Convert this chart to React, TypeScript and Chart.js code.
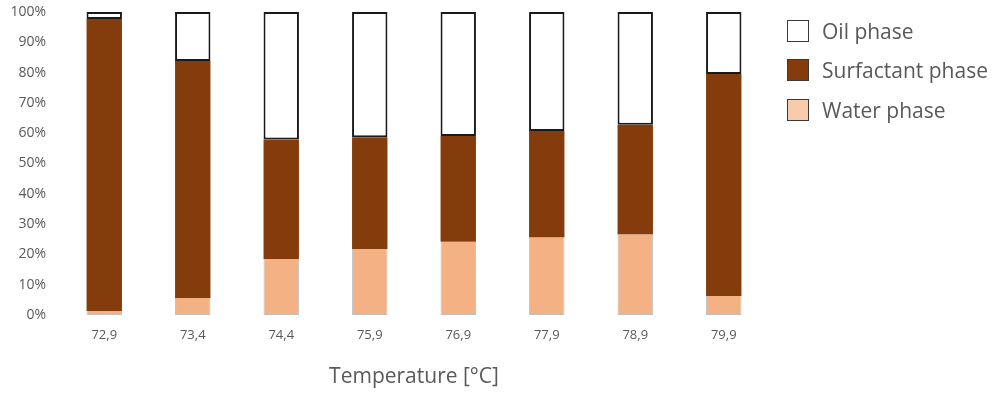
import React, { useEffect, useRef } from "react";
import { Chart, registerables } from "chart.js";

Chart.register(...registerables);

const categories = ["72,9", "73,4", "74,4", "75,9", "76,9", "77,9", "78,9", "79,9"];
const waterPhase = [1.3, 5.6, 18.5, 21.8, 24.2, 25.6, 26.6, 6.3];
const surfactantPhase = [96.4, 78.2, 39.4, 36.9, 34.9, 35.1, 36.2, 73.2];
const oilPhase = [2.3, 16.2, 42.1, 41.3, 40.9, 39.3, 37.2, 20.5];
const yTicks = [0, 10, 20, 30, 40, 50, 60, 70, 80, 90, 100];
const xTitle = "Temperature [°C]";
const legendItems = [
  { label: "Oil phase", color: "#FFFFFF" },
  { label: "Surfactant phase", color: "#843C0C" },
  { label: "Water phase", color: "#F8CBAD" },
];

const FONT = "'Open Sans', 'Noto Sans', sans-serif";

export default function App() {
  const ref = useRef<HTMLCanvasElement | null>(null);

  useEffect(() => {
    document.body.style.margin = "0";
    if (!ref.current) return;
    const chart = new Chart(ref.current, {
      type: "bar",
      data: {
        labels: categories,
        datasets: [
          {
            label: "Water phase",
            data: waterPhase,
            backgroundColor: "#F4B183",
            borderColor: "#BFBFBF",
            borderWidth: { left: 1, right: 1, bottom: 1, top: 0 },
            borderSkipped: false,
            barPercentage: 0.4,
            categoryPercentage: 1,
          },
          {
            label: "Surfactant phase",
            data: surfactantPhase,
            backgroundColor: "#843C0C",
            borderWidth: 0,
            barPercentage: 0.4,
            categoryPercentage: 1,
          },
          {
            label: "Oil phase",
            data: oilPhase,
            backgroundColor: "#FFFFFF",
            borderColor: "#1A1A1A",
            borderWidth: 2,
            borderSkipped: false,
            barPercentage: 0.4,
            categoryPercentage: 1,
          },
        ],
      },
      options: {
        animation: false,
        responsive: true,
        maintainAspectRatio: false,
        layout: { padding: { top: 12, right: 224, left: 0, bottom: 0 } },
        plugins: { legend: { display: false }, tooltip: { enabled: false } },
        scales: {
          x: {
            stacked: true,
            grid: { display: false, drawTicks: false },
            border: { display: false },
            ticks: { color: "#595959", font: { family: FONT, size: 13 }, padding: 12 },
            title: {
              display: true,
              text: xTitle,
              color: "#595959",
              font: { family: FONT, size: 21 },
              padding: { top: 4, bottom: 4 },
            },
            afterFit: (s: any) => {
              s.height = 79;
            },
          },
          y: {
            stacked: true,
            min: 0,
            max: 100,
            afterBuildTicks: (s: any) => {
              s.ticks = yTicks.map((v) => ({ value: v }));
            },
            grid: { display: false, drawTicks: false },
            border: { display: false },
            ticks: {
              color: "#595959",
              font: { family: FONT, size: 14 },
              padding: 14,
              callback: (v: any) => v + "%",
            },
            afterFit: (s: any) => {
              s.width = 60;
              s.paddingTop = 6;
              s.paddingBottom = 6;
            },
          },
        },
      },
    });
    return () => chart.destroy();
  }, []);

  return (
    <div style={{ position: "absolute", left: 0, top: 0, width: 992, height: 394 }}>
      <canvas ref={ref} />
      <div style={{ position: "absolute", left: 787, top: 18, fontFamily: FONT }}>
        {legendItems.map((it) => (
          <div key={it.label} style={{ display: "flex", alignItems: "center", height: 25, marginBottom: 14.5 }}>
            <div
              style={{
                width: 22,
                height: 22,
                boxSizing: "border-box",
                background: it.color,
                border: "1.5px solid #3A3A3A",
                marginRight: 13,
              }}
            />
            <span style={{ fontSize: 21, color: "#595959", whiteSpace: "nowrap" }}>{it.label}</span>
          </div>
        ))}
      </div>
    </div>
  );
}
